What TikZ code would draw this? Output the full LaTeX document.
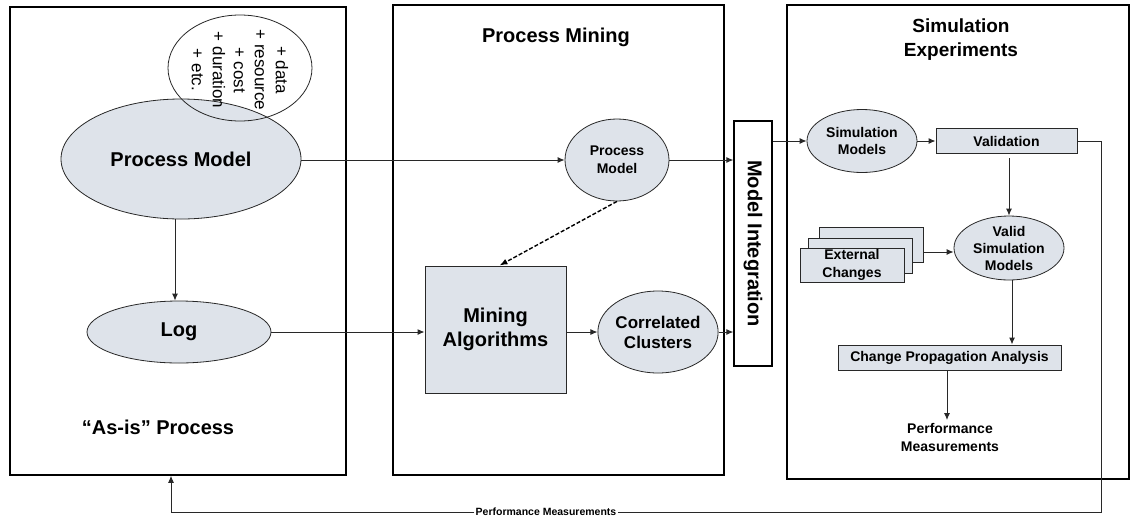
\documentclass[tikz,border=0pt]{standalone}
\usepackage{fontspec}
\setmainfont{Liberation Sans}
\usetikzlibrary{shapes.geometric,arrows.meta,calc}
\definecolor{fillc}{RGB}{222,227,234}
\definecolor{linec}{RGB}{40,40,40}
\begin{document}
\begin{tikzpicture}[x=1pt,y=-1pt,
  frame/.style={draw=black, line width=1.5pt, rectangle, inner sep=0pt},
  ell/.style={ellipse, draw=linec, line width=0.8pt, fill=fillc, inner sep=0pt, align=center},
  rbox/.style={rectangle, draw=linec, line width=1pt, fill=fillc, inner sep=0pt, align=center},
  conn/.style={draw=linec, line width=1pt, -{Latex[length=7pt,width=6pt]}},
  dconn/.style={draw=black, line width=1.4pt, dash pattern=on 4pt off 2pt, -{Latex[length=8pt,width=6pt]}},
  fbig/.style={font=\bfseries\fontsize{20}{24}\selectfont},
  fmid/.style={font=\bfseries\fontsize{17}{20}\selectfont},
  fsmall/.style={font=\bfseries\fontsize{14}{17.5}\selectfont},
  ftiny/.style={font=\bfseries\fontsize{10.5}{12}\selectfont}]
\useasboundingbox (0,0) rectangle (1136,520);
\fill[white] (0,0) rectangle (1136,520);

% frames
\node[frame, minimum width=336pt, minimum height=468pt] (leftbox) at (178,241) {};
\node[frame, minimum width=331pt, minimum height=470pt] (midbox) at (558.5,240) {};
\node[frame, minimum width=342pt, minimum height=474pt] (rightbox) at (958,242) {};

% titles
\node[fbig, align=center] (tpm) at (556,37) {Process Mining};
\node[align=center, font=\bfseries\fontsize{19}{24}\selectfont] (tse) at (961,40) {Simulation\\Experiments};
\node[fbig] (asis) at (158,427) {“As-is” Process};

% left column
\node[ell, fbig, minimum width=240pt, minimum height=120pt] (pmbig) at (181,159) {Process Model};
\node[ellipse, draw=linec, line width=0.8pt, minimum width=144pt, minimum height=106pt, inner sep=0pt] (attr) at (240,68) {};
\node[rotate=-90, align=center, font=\fontsize{17}{21}\selectfont] (attrtext) at (240,70) {+ data\\+ resource\\+ cost\\+ duration\\+ etc.};
\node[ell, fbig, minimum width=184pt, minimum height=62pt] (log) at (179,332) {Log};

% middle column
\node[ell, font=\bfseries\fontsize{14}{18}\selectfont, minimum width=104pt, minimum height=82pt] (pm) at (617,160) {Process\\Model};
\node[rbox, fbig, minimum width=141pt, minimum height=127pt] (mining) at (495.5,329.5) {Mining\\Algorithms};
\node[ell, fmid, minimum width=106pt, minimum height=82pt] (corr) at (658,332) {Correlated\\Clusters};

% model integration
\node[rectangle, draw=black, line width=1.2pt, minimum width=38pt, minimum height=245pt, inner sep=0pt] (mi) at (753,243.5) {};
\node[rotate=-90, fbig] (mitext) at (753,243.5) {Model Integration};

% right column
\node[ell, fsmall, minimum width=110pt, minimum height=63pt] (sim) at (862,141) {Simulation\\Models};
\node[rbox, fsmall, minimum width=141pt, minimum height=25pt] (val) at (1006.5,141) {Validation};
\node[ell, font=\bfseries\fontsize{14}{17}\selectfont, minimum width=110pt, minimum height=64pt] (valid) at (1009,248) {Valid\\Simulation\\Models};
\node[rbox, minimum width=104pt, minimum height=35pt] (ext3) at (871,244.5) {};
\node[rbox, minimum width=104pt, minimum height=35pt] (ext2) at (860,255.5) {};
\node[rbox, fsmall, minimum width=104pt, minimum height=34pt] (ext1) at (852,265) {External\\Changes};
\node[rbox, fsmall, minimum width=223pt, minimum height=25pt] (cpa) at (949.5,357.5) {Change Propagation Analysis};
\node[fsmall, align=center] (perf) at (950,437.5) {Performance\\Measurements};

% connectors
\draw[conn] (pmbig.east |- pm.west) -- (pm.west);
\draw[conn] (pmbig.south -| 175,0) -- (log.north -| 175,0);
\draw[conn] (log.east) -- (mining.west |- log.east);
\draw[dconn] (pm.south) -- ([xshift=4pt]mining.north);
\draw[conn] (mining.east |- corr.west) -- (corr.west);
\draw[conn] (pm.east) -- (mi.west |- pm.east);
\draw[conn] (corr.east) -- (mi.west |- corr.east);
\draw[conn] (mi.east |- sim.west) -- (sim.west);
\draw[conn] (sim.east) -- (val.west);
\draw[conn] ([yshift=-4pt]val.south -| valid.north) -- (valid.north);
\draw[conn] (ext3.east |- 0,252) -- (valid.west |- 0,252);
\draw[conn] ([xshift=3pt]valid.south) -- (cpa.north -| 1012,0);
\draw[conn] (cpa.south -| 947,0) -- (perf.north -| 947,0);

% feedback loop
\coordinate (fbr) at (1101,512);
\coordinate (fbl) at (171,512);
\node[ftiny, fill=white, inner sep=1pt] (pmlab) at (546,512) {Performance Measurements};
\draw[draw=linec, line width=1pt] (val.east) -| (fbr) -- (pmlab.east);
\draw[conn] (pmlab.west) -- (fbl) -- (fbl |- leftbox.south);
\end{tikzpicture}
\end{document}
